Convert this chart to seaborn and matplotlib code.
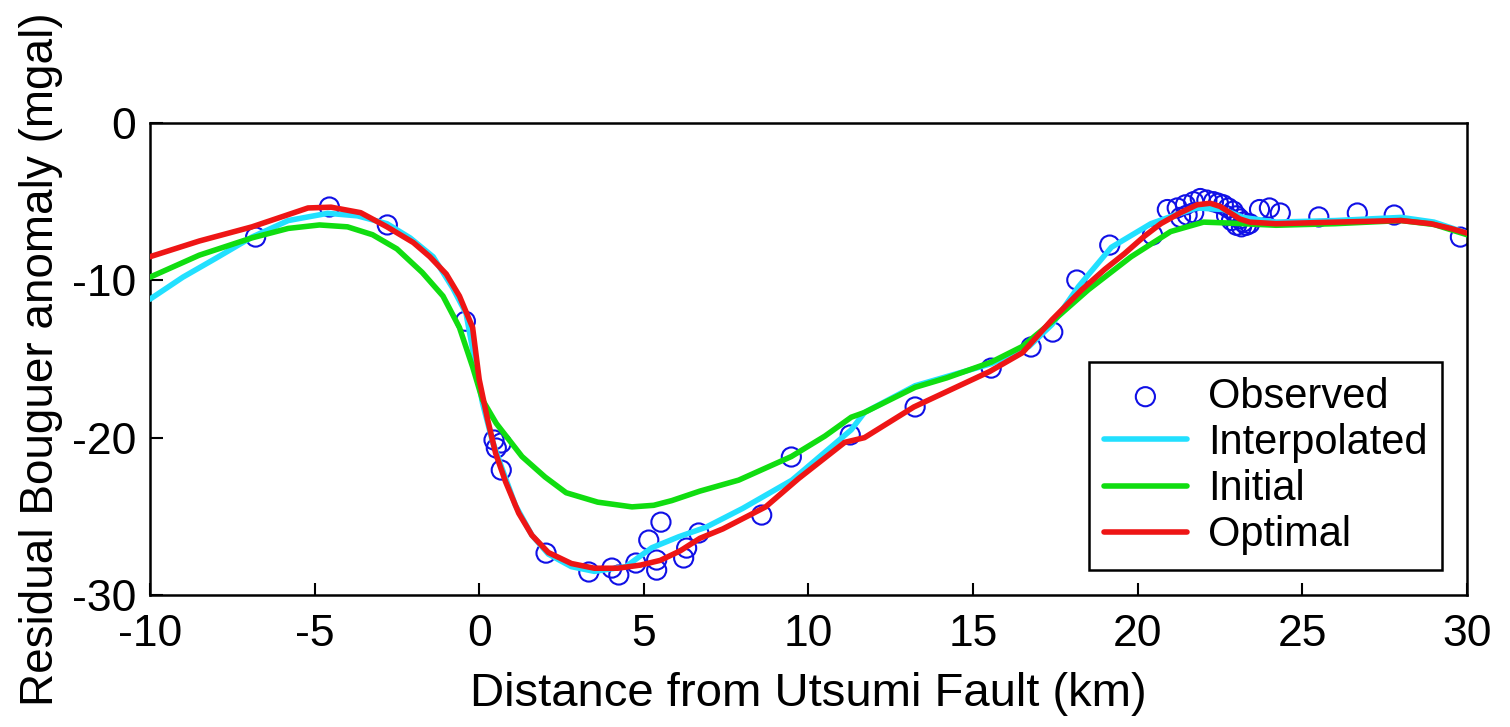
import matplotlib
matplotlib.use("Agg")
import matplotlib.pyplot as plt
import pandas as pd
import seaborn as sns

# observed gravity stations (km, mgal)
obs_x = [-6.79, -4.55, -2.79, -0.42, 0.45, 0.52, 0.67, 0.67, 2.03, 3.33, 4.03, 4.24,
         4.76, 5.15, 5.52, 5.39, 5.39, 6.21, 6.30, 6.67, 8.58, 9.48, 11.27, 13.24,
         15.55, 16.76, 17.42, 18.15, 19.15, 20.45, 20.9, 21.2, 21.3, 21.45, 21.5,
         21.7, 21.7, 21.9, 22.1, 22.3, 22.45, 22.6, 22.75, 22.9, 23.0, 23.1, 23.2,
         23.3, 23.4, 22.7, 22.85, 23.0, 23.15, 23.7, 24.0, 24.33, 25.5, 26.67,
         27.79, 29.8]
obs_y = [-7.25, -5.34, -6.48, -12.6, -20.15, -20.66, -20.34, -22.06, -27.34, -28.54,
         -28.29, -28.73, -27.97, -26.51, -25.37, -27.78, -28.42, -27.65, -27.02,
         -26.06, -24.92, -21.23, -19.83, -18.05, -15.58, -14.24, -13.29, -9.98,
         -7.76, -7.12, -5.5, -5.4, -6.0, -5.2, -5.85, -5.0, -5.7, -4.8, -4.9, -5.0,
         -5.1, -5.2, -5.4, -5.6, -5.9, -6.1, -6.3, -6.5, -6.4, -5.9, -6.2, -6.5,
         -6.6, -5.5, -5.4, -5.72, -5.97, -5.72, -5.85, -7.25]

interp_x = [-10, -9, -8, -6.9, -5.8, -4.6, -3.7, -2.8, -2.1, -1.4, -0.8, -0.4, -0.1,
            0.1, 0.4, 0.7, 1.1, 1.6, 2.1, 2.8, 3.5, 4.45, 5.24, 6.06, 6.88, 8.0, 9.5,
            11.3, 11.7, 13.24, 15.55, 16.7, 17.4, 18.2, 19.2, 20.4, 21.2, 21.8, 22.6,
            23.2, 24.2, 26, 28, 29, 30]
interp_y = [-11.2, -9.8, -8.6, -7.25, -6.2, -5.74, -5.9, -6.4, -7.3, -8.5, -10.5,
            -12.1, -15.5, -17.8, -20.2, -22.0, -24.3, -26.2, -27.4, -28.2, -28.5,
            -28.2, -27.0, -26.3, -25.7, -24.5, -22.7, -19.5, -18.4, -16.7, -15.3,
            -14.2, -12.8, -10.4, -7.9, -6.4, -5.8, -5.4, -5.5, -6.0, -6.3, -6.2,
            -6.0, -6.3, -7.0]

init_x = [-10, -8.5, -6.9, -5.8, -4.85, -4.0, -3.24, -2.5, -1.73, -1.1, -0.6, -0.2,
          0.1, 0.52, 1.3, 2.0, 2.64, 3.6, 4.64, 5.3, 5.85, 6.7, 7.88, 9.48, 10.5,
          11.3, 11.7, 13.24, 14.2, 15.55, 16.5, 17.36, 18.5, 19.8, 21.0, 22.0, 22.8,
          24.2, 26, 28, 29, 30]
init_y = [-9.8, -8.4, -7.3, -6.7, -6.48, -6.6, -7.1, -8.0, -9.5, -11.0, -13.0, -15.5,
          -17.6, -19.1, -21.2, -22.5, -23.5, -24.1, -24.4, -24.3, -24.0, -23.4,
          -22.7, -21.2, -19.9, -18.7, -18.4, -16.8, -16.2, -15.2, -14.2, -12.7,
          -10.6, -8.5, -6.9, -6.3, -6.36, -6.5, -6.4, -6.2, -6.45, -7.1]

opt_x = [-10, -8.5, -6.9, -5.2, -4.5, -3.6, -2.8, -2.0, -1.5, -1.0, -0.6, -0.2, 0,
         0.25, 0.5, 0.8, 1.2, 1.6, 2.1, 2.8, 3.5, 4.2, 4.9, 5.5, 6.1, 6.7, 7.4, 8.7,
         9.7, 11.1, 11.7, 13.2, 15.5, 16.5, 17.4, 18.3, 19.0, 19.6, 20.2, 20.7, 21.3,
         21.8, 22.2, 22.5, 22.8, 23.1, 23.4, 24.2, 26, 28, 28.9, 29.5, 30]
opt_y = [-8.5, -7.5, -6.6, -5.4, -5.35, -5.7, -6.6, -7.6, -8.5, -9.6, -11.0, -13.0,
         -16.3, -18.8, -21.0, -22.8, -24.8, -26.2, -27.3, -28.0, -28.3, -28.3,
         -28.1, -27.8, -27.2, -26.4, -25.8, -24.4, -22.6, -20.3, -20.0, -18.05,
         -15.8, -14.6, -12.5, -10.6, -9.3, -8.3, -7.2, -6.4, -5.7, -5.2, -5.1, -5.3,
         -5.7, -6.1, -6.3, -6.4, -6.3, -6.2, -6.4, -6.7, -7.0]

sns.set_theme(style="white")
plt.rcParams['font.family'] = ['Liberation Sans', 'DejaVu Sans']
plt.rcParams['axes.unicode_minus'] = False
plt.rcParams['text.color'] = 'black'
plt.rcParams['axes.labelcolor'] = 'black'
plt.rcParams['xtick.color'] = 'black'
plt.rcParams['ytick.color'] = 'black'

fig = plt.figure(figsize=(15.1, 7.27), dpi=100)
ax = fig.add_axes([0.0993, 0.1816, 0.8722, 0.6492])

obs = pd.DataFrame({'x': obs_x, 'y': obs_y})
sns.scatterplot(data=obs, x='x', y='y', ax=ax, marker='o', s=190,
                facecolors='none', edgecolor='#1010E6', linewidth=1.5,
                label='Observed', zorder=2)
sns.lineplot(x=interp_x, y=interp_y, ax=ax, color='#22E0FF', linewidth=4,
             label='Interpolated', zorder=3)
sns.lineplot(x=init_x, y=init_y, ax=ax, color='#10DD10', linewidth=4,
             label='Initial', zorder=3)
sns.lineplot(x=opt_x, y=opt_y, ax=ax, color='#EE1515', linewidth=4,
             label='Optimal', zorder=4)

ax.set_xlim(-10, 30)
ax.set_ylim(-30, 0)
ax.set_xticks(range(-10, 31, 5))
ax.set_yticks([-30, -20, -10, 0])
ax.set_xlabel('Distance from Utsumi Fault (km)', fontsize=34, labelpad=12)
ax.set_ylabel('Residual Bouguer anomaly (mgal)', fontsize=33, labelpad=6)
ax.tick_params(axis='both', direction='in', length=9, width=1.5, labelsize=32,
               pad=10, left=True, bottom=True)
ax.tick_params(axis='x', pad=14)
for sp in ax.spines.values():
    sp.set_color('black')
    sp.set_linewidth(1.8)

leg = ax.legend(loc='lower right', fontsize=30, frameon=True, fancybox=False,
                edgecolor='black', framealpha=1, borderaxespad=0.6,
                labelspacing=0.15, handlelength=2.0, handletextpad=0.5,
                borderpad=0.35)
leg.get_frame().set_linewidth(1.8)

fig.savefig('out.png', dpi=100)
